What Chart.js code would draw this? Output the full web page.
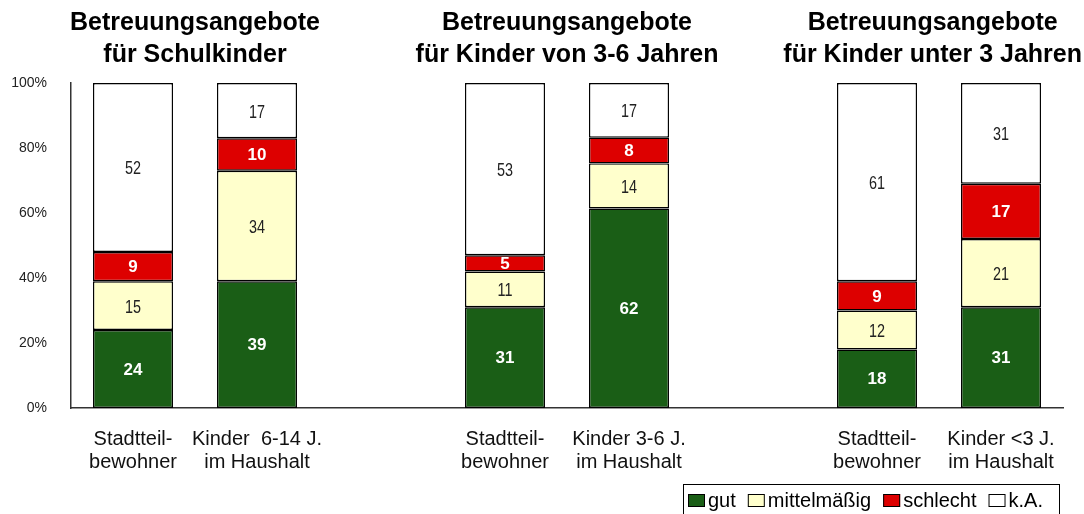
<!DOCTYPE html>
<html>
<head>
<meta charset="utf-8">
<script src="https://cdn.jsdelivr.net/npm/chart.js@4/dist/chart.umd.min.js"></script>
<style>
  html, body { margin: 0; padding: 0; background: #fff; }
  #wrap { width: 1084px; height: 514px; }
</style>
</head>
<body>
<div id="wrap"><canvas id="chart" width="1084" height="514"></canvas></div>
<script>
const categories = [
  ['Stadtteil-', 'bewohner'], ['Kinder  6-14 J.', 'im Haushalt'], '',
  ['Stadtteil-', 'bewohner'], ['Kinder 3-6 J.', 'im Haushalt'], '',
  ['Stadtteil-', 'bewohner'], ['Kinder <3 J.', 'im Haushalt']
];
const gut = [24, 39, null, 31, 62, null, 18, 31];
const mittel = [15, 34, null, 11, 14, null, 12, 21];
const schlecht = [9, 10, null, 5, 8, null, 9, 17];
const keineAngabe = [52, 17, null, 53, 17, null, 61, 31];
const yTicks = [0, 20, 40, 60, 80, 100];
const groupTitles = [
  ['Betreuungsangebote', 'für Schulkinder'],
  ['Betreuungsangebote', 'für Kinder von 3-6 Jahren'],
  ['Betreuungsangebote', 'für Kinder unter 3 Jahren']
];
const groupFirst = [0, 3, 6];

const series = [gut, mittel, schlecht, keineAngabe];
const totals = categories.map((_, i) => series.reduce((s, arr) => s + (arr[i] || 0), 0));
const toPct = arr => arr.map((v, i) => v == null ? null : v / totals[i] * 100);

const FONT = "'Liberation Sans', Arial, sans-serif";

const titlePlugin = {
  id: 'groupTitles',
  afterDraw(chart) {
    const ctx = chart.ctx;
    const x = chart.scales.x;
    ctx.save();
    ctx.font = 'bold 25px ' + FONT;
    ctx.fillStyle = '#000';
    ctx.textAlign = 'center';
    ctx.textBaseline = 'middle';
    groupTitles.forEach((lines, g) => {
      let cx = (x.getPixelForValue(groupFirst[g]) + x.getPixelForValue(groupFirst[g] + 1)) / 2;
      const w = Math.max(...lines.map(l => ctx.measureText(l).width));
      if (cx + w / 2 > chart.width - 2) cx = chart.width - 2 - w / 2;
      lines.forEach((l, k) => ctx.fillText(l, cx, 23 + k * 32));
    });
    ctx.restore();
  }
};

// numbers inside the segments
const valuePlugin = {
  id: 'values',
  afterDatasetsDraw(chart) {
    const ctx = chart.ctx;
    ctx.save();
    ctx.textAlign = 'center';
    ctx.textBaseline = 'middle';
    chart.data.datasets.forEach((ds, di) => {
      const meta = chart.getDatasetMeta(di);
      meta.data.forEach((bar, i) => {
        const raw = series[di][i];
        if (raw == null) return;
        const y = (bar.y + bar.base) / 2;
        if (di === 0 || di === 2) {
          ctx.font = 'bold 17px ' + FONT;
          ctx.fillStyle = '#fff';
          ctx.fillText(String(raw), bar.x, y + 1);
        } else {
          // narrow look
          ctx.save();
          ctx.translate(bar.x, y);
          ctx.scale(0.8, 1);
          ctx.font = '18px ' + FONT;
          ctx.fillStyle = '#222';
          ctx.fillText(String(raw), 0, 2);
          ctx.restore();
        }
      });
    });
    ctx.restore();
  }
};

// legend drawn by hand so it can sit in a box at the bottom right
const legendPlugin = {
  id: 'boxLegend',
  afterDraw(chart) {
    const ctx = chart.ctx;
    ctx.save();
    ctx.font = '20px ' + FONT;
    ctx.textBaseline = 'middle';
    ctx.textAlign = 'left';
    let x = 688;
    const cy = 500;
    let end = x;
    chart.data.datasets.forEach(ds => {
      ctx.fillStyle = ds.backgroundColor;
      ctx.fillRect(x, cy - 6, 17, 13);
      ctx.strokeStyle = '#000';
      ctx.lineWidth = 1;
      ctx.strokeRect(x + 0.5, cy - 5.5, 16, 12);
      ctx.fillStyle = '#000';
      ctx.fillText(ds.label, x + 20, cy + 1);
      end = x + 20 + ctx.measureText(ds.label).width;
      x = end + 12;
    });
    ctx.strokeRect(683.5, 484.5, Math.round(end - 683 + 16), 40);
    ctx.restore();
  }
};

new Chart(document.getElementById('chart'), {
  type: 'bar',
  data: {
    labels: categories,
    datasets: [
      { label: 'gut', data: toPct(gut), backgroundColor: '#1a5e16' },
      { label: 'mittelmäßig', data: toPct(mittel), backgroundColor: '#ffffcc' },
      { label: 'schlecht', data: toPct(schlecht), backgroundColor: '#dd0000' },
      { label: 'k.A.', data: toPct(keineAngabe), backgroundColor: '#ffffff' }
    ].map(d => Object.assign(d, {
      borderColor: '#000', borderWidth: 1.4, borderSkipped: false,
      barPercentage: 1, categoryPercentage: 0.645
    }))
  },
  options: {
    responsive: false,
    animation: false,
    layout: { padding: { top: 83, right: 21, left: 0, bottom: 0 } },
    plugins: {
      legend: { display: false },
      tooltip: { enabled: false },
      title: { display: false }
    },
    scales: {
      x: {
        stacked: true,
        grid: { display: false, drawTicks: false },
        border: { display: true, color: '#333', width: 1.5 },
        ticks: { color: '#111', font: { family: FONT, size: 20, lineHeight: 1.15 }, padding: 20, maxRotation: 0, autoSkip: false },
        afterFit: s => { s.height = 106; }
      },
      y: {
        stacked: true,
        min: 0, max: 100,
        afterBuildTicks: axis => { axis.ticks = yTicks.map(v => ({ value: v })); },
        grid: { display: false, drawTicks: false },
        border: { display: true, color: '#333', width: 1.5 },
        ticks: { color: '#222', font: { family: FONT, size: 14 }, padding: 24, callback: v => v + '%' },
        afterFit: s => { s.width = 71; }
      }
    }
  },
  plugins: [titlePlugin, valuePlugin, legendPlugin]
});
</script>
</body>
</html>
